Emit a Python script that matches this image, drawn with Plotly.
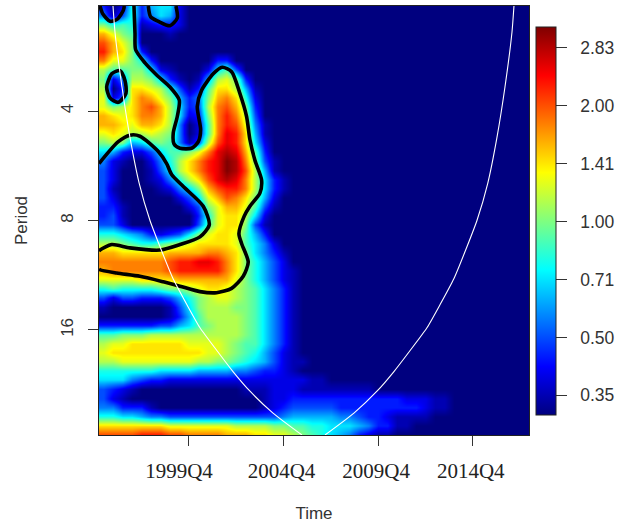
import numpy as np
import plotly.graph_objects as go

# Wavelet power, one string per period row (top to bottom),
# one character per half-year column; level 0..k is a fraction of the colour range.
power_levels = [
"302836772","514835762","a89812332","eca90001","geca","heda3","fcca8300000033",
"b99aa7210002794","a25bba731016bca3","b03ddcb84139ddb61","c24dfeca635aefd82",
"cabdfgeb734bfgea3","edcdffeb723afhfb4","eedceedb5029fhgc51","cdcbbcba5029fihd61",
"aba679a9514bgihd72","763224799acfijie93","52100258bdfhikjfa41","42000147bdfhikjgb61",
"420001258bdgijifb731","4100001257aeghhfb731","42000000247cegfda62","33100000024aceec941",
"341000000038cddb72","442000000049cdda41","8876532347acddc963","bba9889abcddddc9752",
"eedddddeeeeffeda7531","fffffffghhiihfda8642","effffffghhhhhfda86421","ccccddddeeeeeeca86421",
"8988889aabcddcba97531","4244333468abccba97531","1000000147abbbaa97531","00000001369bbbba97531",
"33333344679abbba97531","99aaabbbbbbbbbba97531","bccddddddccccba997531","cddddddddddccba986421",
"bbccccccccbbaa98764211","888888777766665543321","777543322222222222222211",
"43210000000000011122211111111",
"4210000000000000012233333333333322211",
"5533310000000000012344444333333333211",
"88776554444444444445666665543321111",
"dddddddcccccccbbbbaa9988777653311",
"gggghhhggffffeeeddccba987653211",
]
n_columns = 46
log2_power_min = -1.67
log2_power_max = 1.68

# Tick values and labels
time_ticks = [19, 39, 59, 79]
time_labels = ["1999Q4\u00a0\u00a0\u00a0", "2004Q4", "2009Q4", "2014Q4"]
period_ticks = [2, 3, 4]
period_labels = ["4", "8", "16"]
power_ticks = [-1.5, -1, -0.5, 0, 0.5, 1, 1.5]
power_labels = ["\u00a0\u00a00.35", "\u00a0\u00a00.50", "\u00a0\u00a00.71", "\u00a0\u00a01.00", "\u00a0\u00a01.41", "\u00a0\u00a02.00", "\u00a0\u00a02.83"]

# Significance contours: time in quarters since the start, log2 of the period
sig_a_time = [7.39,7.61,7.75,9.72,12.18,15.0,16.97,16.55,15.7,15.85,17.11,19.58,20.99,21.48,20.77,21.69,24.15,26.06,28.03,29.79,31.2,31.9,32.96,34.37,34.01,31.9,30.7,29.58,30.14,31.55,30.49,28.03,24.86,21.34,17.11,13.59,8.66,3.73,0.21,0]
sig_a_period = [1.04,1.29,1.44,1.56,1.67,1.78,1.9,2.05,2.2,2.3,2.34,2.34,2.28,2.17,1.96,1.81,1.66,1.6,1.64,1.84,2.05,2.26,2.45,2.63,2.75,2.87,2.96,3.12,3.21,3.38,3.51,3.62,3.66,3.65,3.6,3.56,3.51,3.48,3.45,3.44]
sig_b_time = [0,4.08,6.55,8.66,12.54,14.3,15.35,17.82,22.04,23.31,21.34,17.11,12.89,6.55,2.68,0.21,0]
sig_b_period = [2.48,2.28,2.22,2.23,2.37,2.48,2.58,2.69,2.87,3.04,3.15,3.22,3.27,3.25,3.22,3.27,3.28]
sig_c_time = [1.62,2.68,4.44,5.49,5.7,4.08,2.32,1.62]
sig_c_period = [1.78,1.66,1.63,1.72,1.84,1.92,1.88,1.78]
sig_d_time = [0.21,0.77,2.32,3.87,5.14,5.35]
sig_d_period = [1.04,1.11,1.18,1.16,1.08,1.04]
sig_e_time = [10.42,10.92,12.54,15.0,16.55,16.27]
sig_e_period = [1.04,1.14,1.18,1.22,1.15,1.04]

# Cone of influence
coi_left_time = [2.96,3.38,4.86,6.55,8.5,10.78,12.9,15.64,18.6,21.35,24.95,28.33,31.92,36.79,42.9]
coi_left_period = [1.04,1.28,1.78,2.24,2.66,3.0,3.24,3.53,3.77,3.98,4.19,4.38,4.56,4.76,4.96]
coi_right_time = [47.78,53.89,58.76,62.35,65.73,69.33,72.08,75.04,77.78,79.9,82.18,84.13,85.82,87.3,87.72]
coi_right_period = [4.96,4.76,4.56,4.38,4.19,3.98,3.77,3.53,3.24,3.0,2.66,2.24,1.78,1.28,1.04]

LEVELS = "0123456789abcdefghijk"
z = np.array([[LEVELS.index(ch) for ch in row.ljust(n_columns, "0")[:n_columns]] for row in power_levels], float)
z = log2_power_min + (log2_power_max - log2_power_min) * z / 20

jet = [[0, "#00007F"], [0.125, "#0000FF"], [0.375, "#00FFFF"], [0.625, "#FFFF00"], [0.875, "#FF0000"], [1, "#7F0000"]]

fig = go.Figure()
fig.add_trace(go.Heatmap(
    z=z, x0=1, dx=2, y0=1.04, dy=1/12, colorscale=jet, zmin=log2_power_min, zmax=log2_power_max,
    zsmooth="best", hoverinfo="skip",
    colorbar=dict(
        x=1.0155, xanchor="left", y=0.951, yanchor="top", thickness=20, thicknessmode="pixels",
        len=388, lenmode="pixels", outlinewidth=1, outlinecolor="#222", tickmode="array",
        tickvals=power_ticks, ticktext=power_labels, ticks="outside", ticklen=11, tickwidth=1,
        tickcolor="#333", tickfont=dict(family="Liberation Sans", size=17.5, color="#333"), xpad=0, ypad=0),
))
for tx, ty in [(sig_a_time, sig_a_period), (sig_b_time, sig_b_period), (sig_c_time, sig_c_period),
               (sig_d_time, sig_d_period), (sig_e_time, sig_e_period)]:
    fig.add_trace(go.Scatter(x=tx, y=ty, mode="lines", line=dict(color="black", width=3.6, shape="spline", smoothing=0.7),
                             showlegend=False, hoverinfo="skip"))
for tx, ty in [(coi_left_time, coi_left_period), (coi_right_time, coi_right_period)]:
    fig.add_trace(go.Scatter(x=tx, y=ty, mode="lines", line=dict(color="white", width=1.1, shape="spline", smoothing=0.6),
                             showlegend=False, hoverinfo="skip"))

fig.update_layout(
    width=630, height=530, autosize=False, paper_bgcolor="white", plot_bgcolor="white",
    margin=dict(l=99, r=101, t=6, b=95),
    xaxis=dict(range=[0, 90.9], tickmode="array", tickvals=time_ticks, ticktext=time_labels, ticks="outside",
               ticklen=10, tickwidth=1, tickcolor="#333", showgrid=False, zeroline=False, showline=True,
               linecolor="#222", linewidth=1, mirror=True, ticklabelstandoff=7, ticklabelshift=-2,
               tickfont=dict(family="Liberation Serif", size=21, color="#222"),
               title=dict(text="Time", font=dict(family="Liberation Sans", size=17, color="#333"), standoff=24)),
    yaxis=dict(range=[4.96, 1.04], tickmode="array", tickvals=period_ticks, ticktext=period_labels, ticks="outside",
               ticklen=10, tickwidth=1, tickcolor="#333", showgrid=False, zeroline=False, showline=True,
               linecolor="#222", linewidth=1, mirror=True, tickangle=-90, ticklabelstandoff=8,
               tickfont=dict(family="Liberation Sans", size=17, color="#333"),
               title=dict(text="Period", font=dict(family="Liberation Sans", size=17, color="#333"), standoff=26)),
)
fig.write_html("out.html", config=dict(displayModeBar=False), post_script="document.body.style.margin='0';")
